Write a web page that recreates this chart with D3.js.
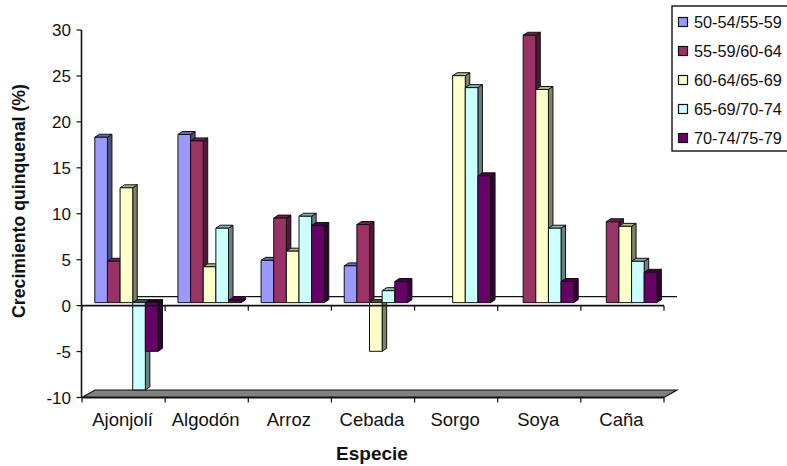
<!DOCTYPE html>
<html><head><meta charset="utf-8">
<script src="https://cdn.jsdelivr.net/npm/d3@7"></script>
<style>html,body{margin:0;padding:0;background:#fff}svg{display:block}text{font-family:"Liberation Sans",Arial,sans-serif;fill:#111}</style>
</head><body><svg id="c" width="787" height="466"></svg>
<script>
const categories = ["Ajonjolí","Algodón","Arroz","Cebada","Sorgo","Soya","Caña"];
const seriesNames = ["50-54/55-59","55-59/60-64","60-64/65-69","65-69/70-74","70-74/75-79"];
const s1 = [18.0,18.3,4.6,4.0,null,null,null];
const s2 = [4.5,17.6,9.2,8.5,null,29.1,8.8];
const s3 = [12.5,3.9,5.6,-5.3,24.7,23.2,8.3];
const s4 = [-9.5,8.1,9.4,1.3,23.4,8.1,4.5];
const s5 = [-5.3,0.25,8.4,2.3,13.8,2.3,3.3];
const seriesValues = [s1,s2,s3,s4,s5];
const colors = ["#9999ff","#993366","#ffffcc","#ccffff","#660066"];
const yTicks = [-10,-5,0,5,10,15,20,25,30];

const svg = d3.select("#c");
const x = d3.scaleBand().domain(categories).range([82,664]);
const y = d3.scaleLinear().domain([-10,30]).range([397.5,30]);
const barX = d3.scaleBand().domain(d3.range(5)).range([12.8,76]);
const dx=4.5, dy=-3, backX=13, backY=-8.5, barLift=-3;
const line=(x1,y1,x2,y2,w=1.4)=>svg.append("line").attr("x1",x1).attr("y1",y1).attr("x2",x2).attr("y2",y2).attr("stroke","#111").attr("stroke-width",w);

// floor
const fl=[[82,y(-10)],[664,y(-10)],[664+backX,y(-10)+backY+1],[82+backX,y(-10)+backY+1]];
svg.append("polygon").attr("points",fl.join(" ")).attr("fill","#808080").attr("stroke","#111").attr("stroke-width",1.2);
line(82,y(-10),664,y(-10),2);
// back line of zero plane
line(82+backX,y(0)+backY-0.5,664+backX,y(0)+backY-0.5,1.2);

// bars
seriesValues.forEach((vals,si)=>{
  const c=d3.color(colors[si]);
  const side=d3.rgb(c.r*0.5,c.g*0.5,c.b*0.5), top=d3.rgb(c.r*0.7,c.g*0.7,c.b*0.7);
  const g=svg.append("g");
  vals.forEach((v,i)=>{
    if(v===null) return;
    const X=x(categories[i])+barX(si), w=barX.bandwidth();
    const y0=y(0)+barLift, yv=y(v)+barLift;
    const t=Math.min(y0,yv), b=Math.max(y0,yv);
    const attrs=(s,f)=>s.attr("fill",f).attr("stroke","#111").attr("stroke-width",1).attr("stroke-linejoin","round");
    attrs(g.append("polygon").attr("points",[[X+w,t],[X+w+dx,t+dy],[X+w+dx,b+dy],[X+w,b]].join(" ")),side);
    attrs(g.append("polygon").attr("points",[[X,t],[X+dx,t+dy],[X+w+dx,t+dy],[X+w,t]].join(" ")),v<0?side.darker(1.5):top);
    attrs(g.append("rect").attr("x",X).attr("y",t).attr("width",w).attr("height",b-t),colors[si]);
  });
});

// axes
line(81.5,y(30),81.5,y(-10),1.6);
yTicks.forEach(t=>{
  line(76.5,y(t),81.5,y(t),1.2);
  svg.append("text").attr("x",71).attr("y",y(t)+6).attr("text-anchor","end").attr("font-size",17).text(t);
});
line(82,y(0),664,y(0),1.6);
const edges=categories.map(c=>x(c)).concat([664]);
edges.forEach(e=>{line(e,y(0),e,y(0)+5,1.2);line(e,y(-10),e,y(-10)+5,1.2);});
categories.forEach(c=>svg.append("text").attr("x",x(c)+x.bandwidth()/2-1).attr("y",426).attr("text-anchor","middle").attr("font-size",18.5).text(c));
svg.append("text").attr("x",372).attr("y",460).attr("text-anchor","middle").attr("font-size",19).attr("font-weight","bold").text("Especie");
svg.append("text").attr("transform","translate(25,201) rotate(-90)").attr("text-anchor","middle").attr("font-size",17.7).attr("font-weight","bold").text("Crecimiento quinquenal (%)");

// legend
svg.append("rect").attr("x",672).attr("y",6).attr("width",118).attr("height",145).attr("fill","#fff").attr("stroke","#111").attr("stroke-width",1.4);
seriesNames.forEach((n,i)=>{
  const cy=22+i*29;
  svg.append("rect").attr("x",678.5).attr("y",cy-4.5).attr("width",9).attr("height",9).attr("fill",colors[i]).attr("stroke","#111").attr("stroke-width",1.2);
  svg.append("text").attr("x",694).attr("y",cy+5.5).attr("font-size",16.3).text(n);
});
</script></body></html>
